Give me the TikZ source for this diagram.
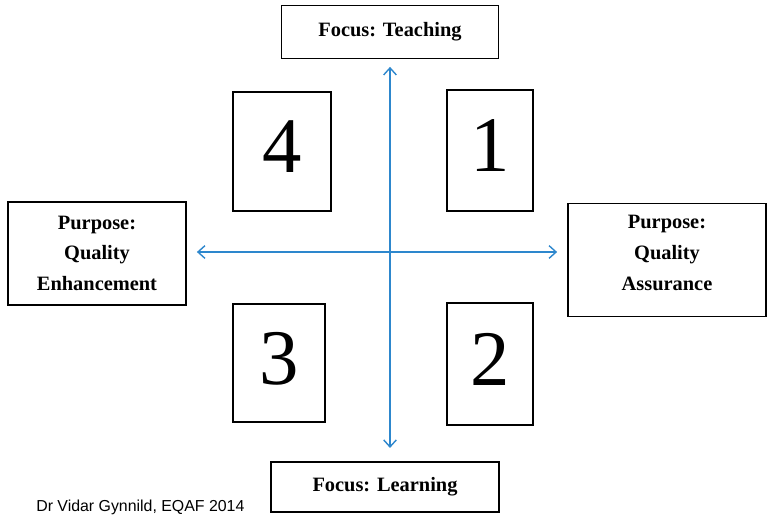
\documentclass[tikz,border=0pt]{standalone}
\usepackage{fontspec}
\setmainfont{Liberation Serif}
\newfontfamily\footfont{Liberation Sans}
\usetikzlibrary{arrows.meta}
\definecolor{axisblue}{RGB}{45,135,205}
\tikzset{
  labelbox/.style={draw,line width=1.2pt,align=center,inner sep=0pt,
    font=\fontsize{14.5}{22}\selectfont\bfseries},
  quadbox/.style={draw,line width=0.9pt,inner sep=0pt,text depth=0.25cm,
    font=\fontsize{56}{56}\selectfont},
  axis/.style={{Straight Barb[length=5pt,width=9pt]}-{Straight Barb[length=5pt,width=9pt]},
    axisblue,line width=1pt}
}
\begin{document}
\begin{tikzpicture}[x=0.025cm,y=-0.025cm]
  \useasboundingbox (0,0) rectangle (767,514);
  % focus and purpose boxes
  \node[labelbox,minimum width=5.43cm,minimum height=1.32cm] (teach) at (390,32) {Focus: Teaching};
  \node[labelbox,minimum width=5.7cm,minimum height=1.25cm] (learn) at (385,487) {Focus: Learning};
  \node[labelbox,minimum width=4.45cm,minimum height=2.58cm] (enhance) at (97,253.4) {Purpose:\\Quality\\Enhancement};
  \node[labelbox,minimum width=4.95cm,minimum height=2.83cm,text depth=0.35cm] (assure) at (667,260) {Purpose:\\Quality\\Assurance};
  % quadrants
  \node[quadbox,minimum width=2.45cm,minimum height=2.98cm] (quadfour) at (282,151.5) {4};
  \node[quadbox,minimum width=2.15cm,minimum height=3.03cm] (quadone) at (490,150.5) {1};
  \node[quadbox,minimum width=2.3cm,minimum height=2.95cm] (quadthree) at (279,363) {3};
  \node[quadbox,minimum width=2.15cm,minimum height=3.05cm] (quadtwo) at (490,364) {2};
  % axes
  \coordinate (centre) at (390,252);
  \draw[axis,shorten <=0.19cm,shorten >=0.33cm] (teach.south -| centre) -- (learn.north -| centre);
  \draw[axis,shorten <=0.25cm,shorten >=0.25cm] (enhance.east |- centre) -- (assure.west |- centre);
  \node[anchor=base west,inner sep=0pt,font=\footfont\fontsize{11.3}{13}\selectfont] (credit) at (36,511) {Dr Vidar Gynnild, EQAF 2014};
\end{tikzpicture}
\end{document}
